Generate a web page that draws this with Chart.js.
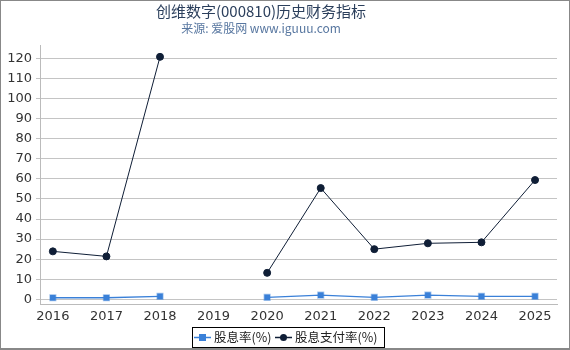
<!DOCTYPE html>
<html>
<head>
<meta charset="utf-8">
<script src="https://cdn.jsdelivr.net/npm/chart.js@4.4.1/dist/chart.umd.min.js"></script>
<style>
  html, body { margin: 0; padding: 0; background: #fff; }
  #wrap { position: relative; width: 570px; height: 350px; box-sizing: border-box;
          border: 1px solid #888; border-bottom-width: 2px; }
  canvas { display: block; }
</style>
</head>
<body>
<div id="wrap"><canvas id="chart" width="568" height="347"></canvas></div>
<script>
const years = [2016, 2017, 2018, 2019, 2020, 2021, 2022, 2023, 2024, 2025];
const dividendYield = [0.8, 0.8, 1.5, null, 1.0, 2.1, 1.0, 2.1, 1.5, 1.5];
const payoutRatio = [23.9, 21.4, 120.7, null, 13.2, 55.4, 25.0, 27.9, 28.4, 59.4];
const yTicks = [0, 10, 20, 30, 40, 50, 60, 70, 80, 90, 100, 110, 120];
const titleText = "创维数字(000810)历史财务指标";
const subtitleText = "来源: 爱股网 www.iguuu.com";

const blue = "#3a80d8";
const navy = "#0f1e36";
const cjk = "'Noto Sans CJK SC', sans-serif";

// title, subtitle and boxed legend drawn by hand
const decorations = {
  id: "decorations",
  afterDraw(chart) {
    const ctx = chart.ctx;
    ctx.save();
    ctx.textAlign = "center";
    ctx.textBaseline = "middle";
    ctx.fillStyle = "#2b3f5c";
    ctx.font = "15px " + cjk;
    ctx.fillText(titleText, 260, 10);
    ctx.fillStyle = "#5877a0";
    ctx.font = "12px " + cjk;
    ctx.fillText(subtitleText, 260, 27);

    // legend
    ctx.strokeStyle = "#000";
    ctx.lineWidth = 1;
    ctx.strokeRect(191.5, 326.5, 192, 20);
    const items = chart.data.datasets.map((ds, i) => ({ ds, x: i === 0 ? 193 : 274 }));
    ctx.font = "12.5px " + cjk;
    ctx.textAlign = "left";
    items.forEach(({ ds, x }) => {
      const cy = 336.5;
      ctx.strokeStyle = ds.borderColor;
      ctx.lineWidth = 1.5;
      ctx.beginPath(); ctx.moveTo(x, cy); ctx.lineTo(x + 17, cy); ctx.stroke();
      ctx.fillStyle = ds.borderColor;
      if (ds.pointStyle === "rect") ctx.fillRect(x + 5, cy - 3.5, 7, 7);
      else { ctx.beginPath(); ctx.arc(x + 8.5, cy, 3.5, 0, Math.PI * 2); ctx.fill(); }
      ctx.fillStyle = "#222";
      ctx.fillText(ds.label, x + 20, cy);
    });
    ctx.restore();
  }
};

const toPts = arr => years.map((y, i) => ({ x: y, y: arr[i] }));

new Chart(document.getElementById("chart"), {
  type: "line",
  data: {
    datasets: [
      {
        label: "股息率(%)",
        data: toPts(dividendYield),
        borderColor: blue, backgroundColor: blue,
        pointBorderColor: "rgba(58,128,216,0.45)", pointBorderWidth: 1.5,
        borderWidth: 1.3, pointStyle: "rect", pointRadius: 4,
        spanGaps: false
      },
      {
        label: "股息支付率(%)",
        data: toPts(payoutRatio),
        borderColor: navy, backgroundColor: navy,
        borderWidth: 1, pointStyle: "circle", pointRadius: 3.5,
        spanGaps: false
      }
    ]
  },
  options: {
    responsive: false,
    animation: false,
    layout: { padding: { left: 0, right: 12, top: 44, bottom: 24 } },
    plugins: {
      legend: { display: false },
      tooltip: { enabled: false }
    },
    scales: {
      x: {
        type: "linear", min: 2015.76, max: 2025.41,
        afterBuildTicks(scale) { scale.ticks = years.map(v => ({ value: v })); },
        afterFit(scale) { scale.height = 20; },
        ticks: { color: "#333", font: { size: 13, family: "'DejaVu Sans', sans-serif" }, padding: 1,
                 callback: v => String(v), maxRotation: 0 },
        grid: { display: false, drawTicks: true, tickLength: 4 },
        border: { color: "#bbb" }
      },
      y: {
        min: -2.3, max: 126.6,
        afterBuildTicks(scale) { scale.ticks = yTicks.map(v => ({ value: v })); },
        afterFit(scale) { scale.width = 39; },
        ticks: { color: "#333", font: { size: 13, family: "'DejaVu Sans', sans-serif" }, padding: 4 },
        grid: { color: "#c4c4c4", tickLength: 4 },
        border: { color: "#bbb" }
      }
    }
  },
  plugins: [decorations]
});
</script>
</body>
</html>
